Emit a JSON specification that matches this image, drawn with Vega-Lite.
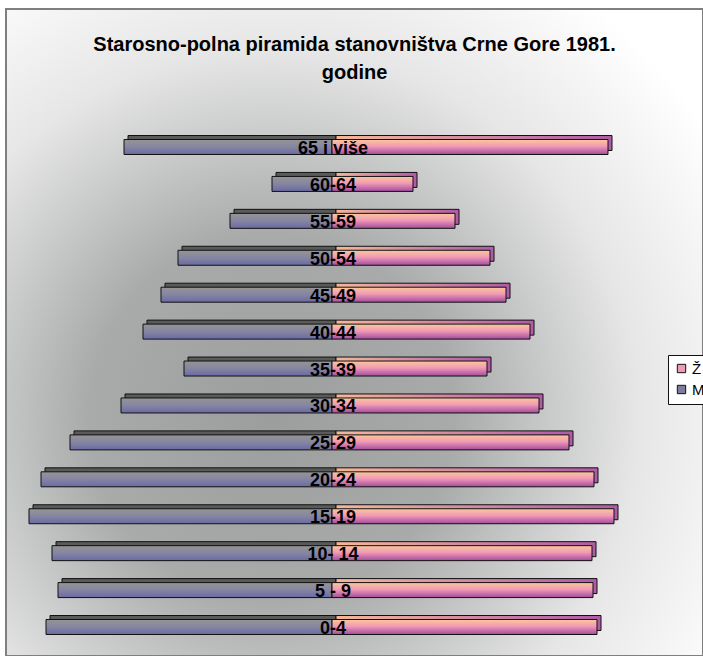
{
  "$schema": "https://vega.github.io/schema/vega-lite/v6.json",
  "width": 697,
  "height": 647,
  "padding": {"left": 6, "top": 9, "right": 0, "bottom": 0},
  "autosize": {"type": "none"},
  "background": "white",
  "config": {
    "font": "Liberation Sans",
    "view": {
      "stroke": "#7f7f7f",
      "strokeWidth": 2,
      "fill": {
        "gradient": "radial",
        "x1": 0.38, "y1": 0.62, "r1": 0,
        "x2": 0.38, "y2": 0.62, "r2": 0.75,
        "stops": [
          {"offset": 0, "color": "#9c9e9e"},
          {"offset": 0.35, "color": "#a9abab"},
          {"offset": 0.7, "color": "#e6e6e6"},
          {"offset": 1, "color": "#ffffff"}
        ]
      }
    },
    "legend": {"symbolOpacity": 1}
  },
  "title": {
    "text": ["Starosno-polna piramida stanovništva Crne Gore 1981.", "godine"],
    "fontSize": 20,
    "fontWeight": "bold",
    "color": "black",
    "font": "Liberation Sans",
    "anchor": "middle",
    "lineHeight": 28,
    "offset": -74
  },
  "data": {
    "values": [
      {"age": "65 i  više", "sex": "M", "value": -20800},
      {"age": "65 i  više", "sex": "Ž", "value": 27600},
      {"age": "60-64", "sex": "M", "value": -6000},
      {"age": "60-64", "sex": "Ž", "value": 8100},
      {"age": "55-59", "sex": "M", "value": -10200},
      {"age": "55-59", "sex": "Ž", "value": 12300},
      {"age": "50-54", "sex": "M", "value": -15400},
      {"age": "50-54", "sex": "Ž", "value": 15800},
      {"age": "45-49", "sex": "M", "value": -17100},
      {"age": "45-49", "sex": "Ž", "value": 17400},
      {"age": "40-44", "sex": "M", "value": -18900},
      {"age": "40-44", "sex": "Ž", "value": 19800},
      {"age": "35-39", "sex": "M", "value": -14800},
      {"age": "35-39", "sex": "Ž", "value": 15500},
      {"age": "30-34", "sex": "M", "value": -21100},
      {"age": "30-34", "sex": "Ž", "value": 20700},
      {"age": "25-29", "sex": "M", "value": -26200},
      {"age": "25-29", "sex": "Ž", "value": 23700},
      {"age": "20-24", "sex": "M", "value": -29100},
      {"age": "20-24", "sex": "Ž", "value": 26200},
      {"age": "15-19", "sex": "M", "value": -30300},
      {"age": "15-19", "sex": "Ž", "value": 28200},
      {"age": "10- 14", "sex": "M", "value": -28000},
      {"age": "10- 14", "sex": "Ž", "value": 26000},
      {"age": "5 - 9", "sex": "M", "value": -27400},
      {"age": "5 - 9", "sex": "Ž", "value": 26100},
      {"age": "0-4", "sex": "M", "value": -28600},
      {"age": "0-4", "sex": "Ž", "value": 26500}
    ]
  },
  "encoding": {
    "y": {
      "field": "age",
      "type": "nominal",
      "sort": ["65 i  više", "60-64", "55-59", "50-54", "45-49", "40-44", "35-39", "30-34", "25-29", "20-24", "15-19", "10- 14", "5 - 9", "0-4"],
      "scale": {"paddingInner": 0.594, "paddingOuter": 0, "range": [130.5, 625.5]},
      "axis": null
    }
  },
  "layer": [
    {
      "transform": [{"filter": "datum.sex == 'M'"}],
      "mark": {"type": "bar", "xOffset": 4, "yOffset": -4, "fill": "#5a5a5a", "stroke": "#111111", "strokeWidth": 1},
      "encoding": {"x": {"field": "value", "type": "quantitative", "scale": {"domain": [-32600, 37100], "nice": false, "zero": false}, "axis": null}}
    },
    {
      "transform": [{"filter": "datum.sex == 'Ž'"}],
      "mark": {"type": "bar", "xOffset": 4, "yOffset": -4, "fill": {"gradient": "linear", "x1": 0, "y1": 0, "x2": 1, "y2": 0, "stops": [{"offset": 0, "color": "#f4b89a"}, {"offset": 1, "color": "#b05aa8"}]}, "stroke": "#111111", "strokeWidth": 1},
      "encoding": {"x": {"field": "value", "type": "quantitative"}}
    },
    {
      "transform": [{"filter": "datum.sex == 'M'"}],
      "mark": {"type": "bar", "stroke": "#111111", "strokeWidth": 1, "fill": {"gradient": "linear", "x1": 0, "y1": 0, "x2": 0, "y2": 1, "stops": [{"offset": 0, "color": "#959595"}, {"offset": 0.5, "color": "#8585a2"}, {"offset": 1, "color": "#6a6aa4"}]}},
      "encoding": {"x": {"field": "value", "type": "quantitative"}}
    },
    {
      "transform": [{"filter": "datum.sex == 'Ž'"}],
      "mark": {"type": "bar", "stroke": "#111111", "strokeWidth": 1, "fill": {"gradient": "linear", "x1": 0, "y1": 0, "x2": 0, "y2": 1, "stops": [{"offset": 0, "color": "#fac89a"}, {"offset": 0.45, "color": "#f29ab6"}, {"offset": 1, "color": "#a24c9e"}]}},
      "encoding": {"x": {"field": "value", "type": "quantitative"}}
    },
    {
      "transform": [{"filter": "datum.sex == 'M'"}],
      "mark": {"type": "text", "fontSize": 18, "fontWeight": "bold", "color": "black", "align": "center", "baseline": "middle", "dy": 2, "dx": 1},
      "encoding": {"x": {"datum": 0}, "text": {"field": "age"}}
    },
    {
      "mark": {"type": "square", "opacity": 0},
      "encoding": {
        "x": {"datum": 0},
        "color": {
          "field": "sex",
          "type": "nominal",
          "scale": {"domain": ["Ž", "M"], "range": ["#ee9ab8", "#7c7c9e"]},
          "legend": {
            "orient": "none",
            "legendX": 662,
            "legendY": 346,
            "title": null,
            "strokeColor": "#111111",
            "fillColor": "white",
            "padding": 6,
            "labelFontSize": 15,
            "labelColor": "black",
            "labelFont": "Liberation Sans",
            "symbolType": "square",
            "symbolSize": 70,
            "symbolStrokeColor": "#111111",
            "symbolStrokeWidth": 1,
            "rowPadding": 5,
            "labelOffset": 3
          }
        }
      }
    }
  ]
}
